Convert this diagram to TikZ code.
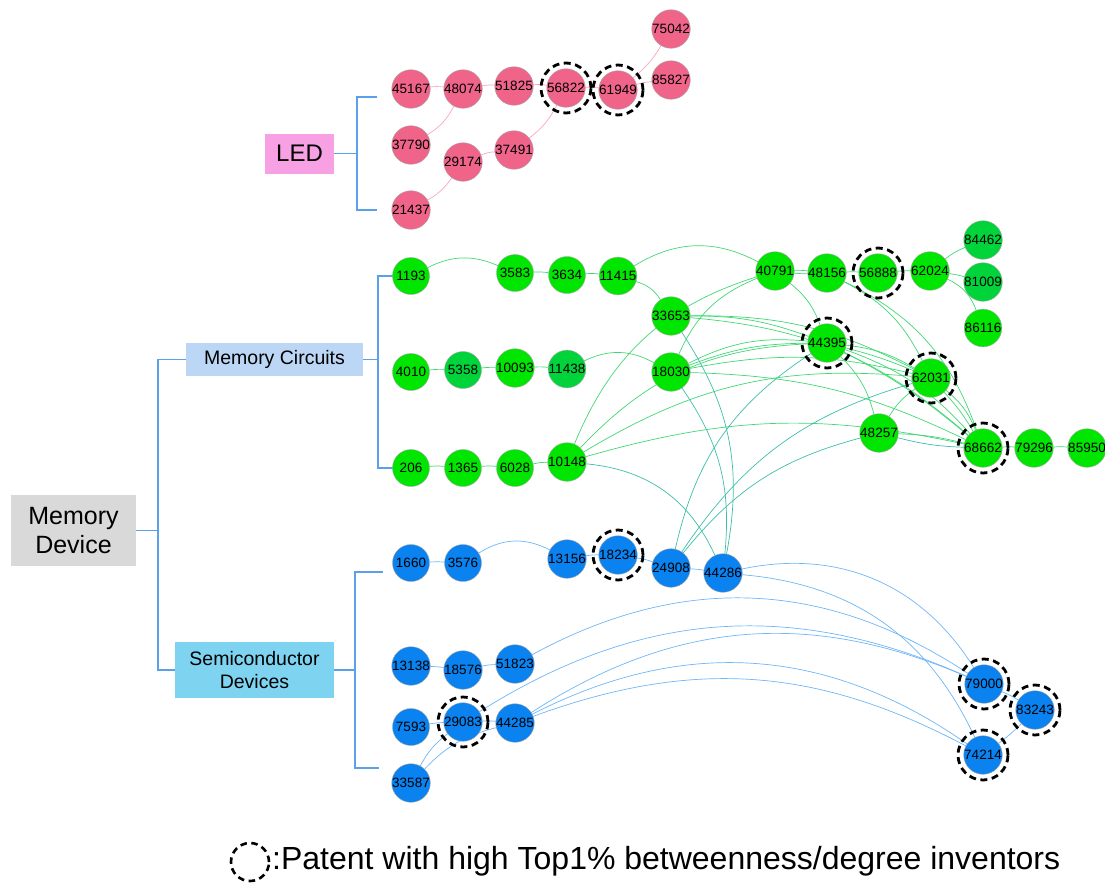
\documentclass[tikz,border=0pt]{standalone}
\usepackage{fontspec}
\setmainfont{Liberation Sans}
\usetikzlibrary{backgrounds}
\definecolor{ledpink}{HTML}{F0648A}
\definecolor{memgreen}{HTML}{00E600}
\definecolor{memgreend}{HTML}{00D43A}
\definecolor{semblue}{HTML}{0A82F0}
\definecolor{epink}{HTML}{F7A8C2}
\definecolor{egreen}{HTML}{3FD873}
\definecolor{eteal}{HTML}{3CBFAA}
\definecolor{eblue}{HTML}{6DB6F8}
\definecolor{brblue}{HTML}{5BA0EA}
\definecolor{boxled}{HTML}{F7A0E4}
\definecolor{boxmd}{HTML}{D9D9D9}
\definecolor{boxmc}{HTML}{BCD7F5}
\definecolor{boxsd}{HTML}{7DD3F0}
\tikzset{
  nd/.style={circle, draw=black!35, line width=0.4pt, minimum size=37pt, inner sep=0pt, font=\fontsize{13.5}{13.5}\selectfont},
  pn/.style={nd, fill=ledpink},
  gn/.style={nd, fill=memgreen},
  gd/.style={nd, fill=memgreend},
  bn/.style={nd, fill=semblue},
  ring/.style={draw=black, line width=2.8pt, dash pattern=on 7pt off 4.5pt},
  pe/.style={draw=epink, line width=0.7pt},
  ge/.style={draw=egreen, line width=0.7pt},
  te/.style={draw=eteal, line width=0.7pt},
  be/.style={draw=eblue, line width=0.7pt},
  br/.style={draw=brblue, line width=1.5pt},
  cat/.style={inner sep=0pt, align=center},
  bl/.style={bend left=#1},
}
\begin{document}
\begin{tikzpicture}[x=1pt, y=-1pt]
\useasboundingbox (0,0) rectangle (1105,884);
% category boxes
\node[cat, fill=boxmd, minimum width=125pt, minimum height=71pt, font=\fontsize{25}{29}\selectfont] (md) at (73.5,530.5) {Memory\\Device};
\node[cat, fill=boxled, minimum width=69pt, minimum height=40pt, font=\fontsize{24}{24}\selectfont] (led) at (299.5,153.5) {LED};
\node[cat, fill=boxmc, minimum width=177pt, minimum height=33pt, font=\fontsize{19.5}{20}\selectfont] (mc) at (274.5,359.5) {Memory Circuits};
\node[cat, fill=boxsd, minimum width=159pt, minimum height=56pt, font=\fontsize{19.5}{23}\selectfont] (sd) at (254.5,670) {Semiconductor\\Devices};
% bracket junctions
\coordinate (mdj) at (158,530.5);
\coordinate (ledj) at (357,153.5);
\coordinate (ledt) at (377,97);
\coordinate (ledb) at (377,210);
\coordinate (mcj) at (378,359.5);
\coordinate (mct) at (393,276);
\coordinate (mcb) at (393,468);
\coordinate (sdj) at (355,670);
\coordinate (sdt) at (383,572);
\coordinate (sdb) at (379,768);
\draw[br] (md.east) -- (mdj);
\draw[br] (mdj) |- (mc.west);
\draw[br] (mdj) |- (sd.west);
\draw[br] (led.east) -- (ledj);
\draw[br] (ledj) |- (ledt);
\draw[br] (ledj) |- (ledb);
\draw[br] (mc.east) -- (mcj);
\draw[br] (mcj) |- (mct);
\draw[br] (mcj) |- (mcb);
\draw[br] (sd.east) -- (sdj);
\draw[br] (sdj) |- (sdt);
\draw[br] (sdj) |- (sdb);
% LED nodes
\node[pn] (p45167) at (411,89) {45167};
\node[pn] (p48074) at (463,89) {48074};
\node[pn] (p51825) at (514,86) {51825};
\node[pn] (p56822) at (566,88) {56822};
\node[pn] (p61949) at (618,90) {61949};
\node[pn] (p75042) at (671,29) {75042};
\node[pn] (p85827) at (671,80) {85827};
\node[pn] (p37790) at (411,145) {37790};
\node[pn] (p29174) at (463,162) {29174};
\node[pn] (p37491) at (514,150) {37491};
\node[pn] (p21437) at (411,210) {21437};
% Memory circuit nodes
\node[gn] (g1193) at (411,276) {1193};
\node[gn] (g3583) at (515,273) {3583};
\node[gn] (g3634) at (567,275) {3634};
\node[gn] (g11415) at (618,276) {11415};
\node[gn] (g33653) at (671,316) {33653};
\node[gn] (g4010) at (411,372) {4010};
\node[gd] (g5358) at (463,370) {5358};
\node[gn] (g10093) at (515,368) {10093};
\node[gd] (g11438) at (567,369) {11438};
\node[gn] (g18030) at (671,372) {18030};
\node[gn] (g206) at (411,468) {206};
\node[gn] (g1365) at (463,468) {1365};
\node[gn] (g6028) at (515,468) {6028};
\node[gn] (g10148) at (567,462) {10148};
\node[gn] (g40791) at (775,271) {40791};
\node[gn] (g48156) at (827,273) {48156};
\node[gn] (g56888) at (878,273) {56888};
\node[gn] (g62024) at (930,271) {62024};
\node[gd] (g84462) at (983,240) {84462};
\node[gd] (g81009) at (983,282) {81009};
\node[gn] (g86116) at (983,328) {86116};
\node[gn] (g44395) at (827,343) {44395};
\node[gn] (g62031) at (931,378) {62031};
\node[gn] (g48257) at (879,433) {48257};
\node[gn] (g68662) at (983,448) {68662};
\node[gn] (g79296) at (1034,448) {79296};
\node[gn] (g85950) at (1087,448) {85950};
% Semiconductor nodes
\node[bn] (b1660) at (411,563) {1660};
\node[bn] (b3576) at (463,563) {3576};
\node[bn] (b13156) at (567,559) {13156};
\node[bn] (b18234) at (618,555) {18234};
\node[bn] (b24908) at (671,568) {24908};
\node[bn] (b44286) at (723,573) {44286};
\node[bn] (b13138) at (411,666) {13138};
\node[bn] (b18576) at (463,670) {18576};
\node[bn] (b51823) at (515,664) {51823};
\node[bn] (b7593) at (411,727) {7593};
\node[bn] (b29083) at (463,722) {29083};
\node[bn] (b44285) at (515,723) {44285};
\node[bn] (b33587) at (411,783) {33587};
\node[bn] (b79000) at (984,684) {79000};
\node[bn] (b83243) at (1035,710) {83243};
\node[bn] (b74214) at (983,755) {74214};
% hub rings
\foreach \h in {p56822,p61949,g56888,g44395,g62031,g68662,b18234,b29083,b79000,b83243,b74214}
  \draw[ring] (\h.center) circle[radius=25pt];
% edges
\begin{scope}[on background layer]
% LED
\draw[pe] (p45167) to[bl=6] (p48074);
\draw[pe] (p48074) to[bl=6] (p51825);
\draw[pe] (p51825) to[bl=6] (p56822);
\draw[pe] (p56822) to[bl=4] (p61949);
\draw[pe] (p61949) to[bl=6] (p85827);
\draw[pe] (p61949) to[bl=-10] (p75042);
\draw[pe] (p37790) to[bl=-15] (p48074);
\draw[pe] (p37491) to[bl=-12] (p56822);
\draw[pe] (p29174) to[bl=8] (p37491);
\draw[pe] (p21437) to[bl=-12] (p29174);
% memory circuits, rows
\draw[ge] (g1193) to[bl=25] (g3583);
\draw[ge] (g3583) to[bl=5] (g3634);
\draw[ge] (g3634) to[bl=5] (g11415);
\draw[ge] (g11415) to[bl=20] (g33653);
\draw[ge] (g11415) to[bl=30] (g40791);
\draw[ge] (g40791) to[bl=4] (g48156);
\draw[ge] (g40791) to[bl=-4] (g48156);
\draw[ge] (g48156) to[bl=3] (g56888);
\draw[ge] (g56888) to[bl=3] (g62024);
\draw[ge] (g62024) to[bl=8] (g84462);
\draw[ge] (g62024) to[bl=4] (g81009);
\draw[ge] (g62024) to[bl=22] (g86116);
\draw[ge] (g4010) to[bl=4] (g5358);
\draw[ge] (g5358) to[bl=4] (g10093);
\draw[ge] (g10093) to[bl=4] (g11438);
\draw[ge] (g11438) to[bl=27] (g18030);
\draw[ge] (g206) to[bl=5] (g1365);
\draw[ge] (g1365) to[bl=5] (g6028);
\draw[ge] (g6028) to[bl=6] (g10148);
% memory circuits, cross links
\draw[ge] (g33653) to[bl=10] (g44395);
\draw[ge] (g33653) to[bl=14] (g62031);
\draw[ge] (g33653) to[bl=18] (g68662);
\draw[ge] (g18030) to[bl=10] (g44395);
\draw[ge] (g18030) to[bl=16] (g44395);
\draw[ge] (g18030) to[bl=12] (g62031);
\draw[ge] (g18030) to[bl=12] (g68662);
\draw[ge] (g18030) to[bl=22] (g40791);
\draw[ge] (g10148) to[bl=25] (g40791);
\draw[ge] (g10148) to[bl=22] (g44395);
\draw[ge] (g10148) to[bl=18] (g62031);
\draw[ge] (g10148) to[bl=14] (g68662);
\draw[ge] (g40791) to[bl=15] (g44395);
\draw[ge] (g48156) to[bl=18] (g62031);
\draw[ge] (g48156) to[bl=22] (g68662);
\draw[ge] (g44395) to[bl=4] (g62031);
\draw[ge] (g44395) to[bl=12] (g62031);
\draw[ge] (g44395) to[bl=6] (g68662);
\draw[ge] (g44395) to[bl=14] (g68662);
\draw[ge] (g44395) to[bl=15] (g48257);
\draw[ge] (g48257) to[bl=12] (g62031);
\draw[ge] (g62031) to[bl=6] (g68662);
\draw[ge] (g62031) to[bl=14] (g68662);
\draw[ge] (g48257) to[bl=6] (g68662);
\draw[te] (g48257) to[bl=-6] (g68662);
\draw[ge] (g68662) to[bl=3] (g79296);
\draw[ge] (g79296) to[bl=3] (g85950);
% links between memory circuits and semiconductor devices
\draw[te] (g33653) to[bl=22] (b44286);
\draw[te] (g18030) to[bl=20] (b44286);
\draw[te] (g10148) to[bl=30] (b44286);
\draw[te] (b24908) to[bl=22] (g44395);
\draw[te] (b24908) to[bl=20] (g62031);
\draw[te] (b24908) to[bl=18] (g48257);
% semiconductor devices
\draw[be] (b1660) to[bl=3] (b3576);
\draw[be] (b3576) to[bl=30] (b13156);
\draw[be] (b13156) to[bl=5] (b18234);
\draw[be] (b18234) to[bl=5] (b24908);
\draw[be] (b24908) to[bl=3] (b44286);
\draw[be] (b44286) to[bl=35] (b79000);
\draw[be] (b44286) to[bl=30] (b74214);
\draw[be] (b13138) to[bl=3] (b18576);
\draw[be] (b18576) to[bl=5] (b51823);
\draw[be] (b51823) to[bl=31] (b79000);
\draw[be] (b29083) to[bl=28] (b79000);
\draw[be] (b44285) to[bl=28] (b79000);
\draw[be] (b44285) to[bl=31] (b74214);
\draw[be] (b44285) to[bl=24] (b74214);
\draw[be] (b7593) to[bl=4] (b29083);
\draw[be] (b29083) to[bl=4] (b44285);
\draw[be] (b33587) to[bl=12] (b29083);
\draw[be] (b33587) to[bl=16] (b44285);
\draw[be] (b79000) to[bl=4] (b83243);
\draw[be] (b83243) to[bl=4] (b74214);
\end{scope}
% legend
\coordinate (legc) at (250,862);
\draw[ring, line width=2.6pt, dash pattern=on 6.5pt off 4.5pt] (legc) circle[radius=19pt];
\node[anchor=west, inner sep=0pt, font=\fontsize{32}{32}\selectfont] (legt) at (272,861) {:Patent with high Top1\% betweenness/degree inventors};
\end{tikzpicture}
\end{document}
